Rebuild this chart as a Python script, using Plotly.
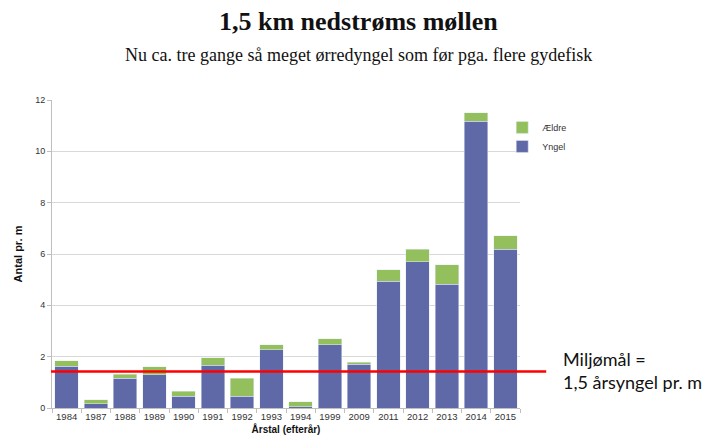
import plotly.graph_objects as go

years = ["1984", "1987", "1988", "1989", "1990", "1991", "1992", "1993",
         "1994", "1999", "2009", "2011", "2012", "2013", "2014", "2015"]
yngel = [1.62, 0.16, 1.15, 1.30, 0.45, 1.67, 0.45, 2.27,
         0.04, 2.46, 1.71, 4.94, 5.70, 4.83, 11.17, 6.18]
totals = [1.84, 0.32, 1.32, 1.60, 0.65, 1.95, 1.15, 2.46,
          0.25, 2.69, 1.79, 5.38, 6.19, 5.59, 11.51, 6.71]
aeldre = [round(t - y, 2) for t, y in zip(totals, yngel)]
target = 1.42

fig = go.Figure()
fig.add_trace(go.Bar(x=years, y=yngel, name="Yngel", marker=dict(color="#5F69A8")))
fig.add_trace(go.Bar(x=years, y=aeldre, name="Ældre", marker=dict(color="#93C05C")))

fig.add_shape(type="line", xref="paper", yref="y", x0=-0.002, x1=1.056, y0=target, y1=target,
              line=dict(color="#FF0000", width=2.5))

# titles (positions relative to plot area: left 52, top 100, 468 x 308 px)
fig.add_annotation(text="<b>1,5 km nedstrøms møllen</b>", xref="paper", yref="paper",
                   x=(358 - 52) / 468, y=1 + (100 - 22) / 308, xanchor="center", yanchor="middle",
                   showarrow=False, font=dict(family="Liberation Serif", size=26, color="#111111"))
fig.add_annotation(text="Nu ca. tre gange så meget ørredyngel som før pga. flere gydefisk",
                   xref="paper", yref="paper",
                   x=(358 - 52) / 468, y=1 + (100 - 55) / 308, xanchor="center", yanchor="middle",
                   showarrow=False, font=dict(family="Liberation Serif", size=18, color="#111111"))

fig.add_annotation(text="Miljømål =<br>1,5 årsyngel pr. m", xref="paper", yref="paper",
                   x=1.088, y=0.2, xanchor="left", yanchor="top", align="left", showarrow=False,
                   font=dict(family="Lato", size=18, color="#111111"))

fig.update_xaxes(type="category", showline=True, linecolor="#BFBFBF", ticks="outside",
                 tickson="boundaries", ticklen=4, tickcolor="#BFBFBF", automargin=False,
                 tickangle=0,
                 tickfont=dict(family="Liberation Sans", size=9.5, color="#333333"),
                 title=dict(text="<b>Årstal (efterår)</b>", standoff=4,
                            font=dict(family="Liberation Sans", size=10, color="#111111")))
fig.update_yaxes(range=[0, 12], dtick=2, showgrid=True, gridcolor="#D9D9D9", showline=True,
                 linecolor="#BFBFBF", ticks="outside", ticklen=4, tickcolor="#BFBFBF",
                 automargin=False,
                 tickfont=dict(family="Liberation Sans", size=9, color="#333333"),
                 title=dict(text="<b>Antal pr. m</b>", standoff=10,
                            font=dict(family="Liberation Sans", size=11, color="#111111")))

# page body has an 8px margin, so the margins are shifted to compensate
fig.update_layout(
    width=716, height=448,
    barmode="stack", bargap=0.2,
    paper_bgcolor="white", plot_bgcolor="white",
    margin=dict(l=44, r=204, t=92, b=48),
    legend=dict(x=0.962, y=0.958, xanchor="left", yanchor="top", traceorder="reversed",
                font=dict(family="Liberation Sans", size=9, color="#333333"),
                itemwidth=30, tracegroupgap=4, bgcolor="rgba(0,0,0,0)"),
    showlegend=True,
)

fig.write_html("out.html")
